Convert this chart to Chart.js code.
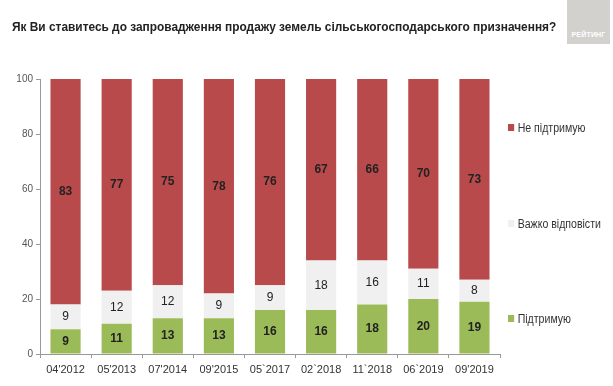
<!DOCTYPE html>
<html>
<head>
<meta charset="utf-8">
<script src="https://cdn.jsdelivr.net/npm/chart.js@4"></script>
<style>
  body { margin: 0; background: #fff; }
  #wrap { position: relative; width: 613px; height: 386px; overflow: hidden; }
  #title { position: absolute; left: 12px; top: 19px; font: bold 13.5px "Liberation Sans", Arial, sans-serif; color: #222; white-space: nowrap; transform-origin: left top; }
  #logo { position: absolute; left: 567px; top: 0; width: 43px; height: 44px; background: #d3d1ce; }
  #logo span { position: absolute; left: 0; right: 0; top: 31px; text-align: center; font: bold 7px "Liberation Sans", Arial, sans-serif; color: #fff; letter-spacing: 0.2px; }
  .leg { position: absolute; left: 508px; font: 12px "Liberation Sans", Arial, sans-serif; color: #333; white-space: nowrap; transform: scaleX(0.88); transform-origin: left center; }
  .leg i { display: inline-block; width: 7px; height: 7px; margin-right: 4px; vertical-align: 1px; }
  canvas { position: absolute; left: 0; top: 0; }
</style>
</head>
<body>
<div id="wrap">
  <canvas id="chart" width="613" height="386"></canvas>
  <div id="title">Як Ви ставитесь до запровадження продажу земель сільськогосподарського призначення?</div>
  <div id="logo"><span>РЕЙТИНГ</span></div>
  <div id="legend"></div>
</div>
<script>
const labels = ["04'2012", "05'2013", "07'2014", "09'2015", "05`2017", "02`2018", "11`2018", "06`2019", "09'2019"];
const support = [9, 11, 13, 13, 16, 16, 18, 20, 19];
const hardToSay = [9, 12, 12, 9, 9, 18, 16, 11, 8];
const notSupport = [83, 77, 75, 78, 76, 67, 66, 70, 73];
const seriesNames = ['Підтримую', 'Важко відповісти', 'Не підтримую'];
const colors = ['#9bbb59', '#f0f0f0', '#b94a4b'];

// заголовок стискаємо до ширини як на оригіналі
const titleEl = document.getElementById('title');
titleEl.style.transform = `scaleX(${544 / titleEl.scrollWidth})`;

// легенда праворуч
const legendTops = [312, 217, 121];
document.getElementById('legend').innerHTML = seriesNames.map((n, i) =>
  `<div class="leg" style="top:${legendTops[i]}px"><i style="background:${colors[i]}"></i>${n}</div>`
).join('');

const valueLabels = {
  id: 'valueLabels',
  afterDatasetsDraw(chart) {
    const ctx = chart.ctx;
    ctx.save();
    ctx.textAlign = 'center';
    ctx.textBaseline = 'middle';
    ctx.fillStyle = '#222';
    chart.data.datasets.forEach((ds, di) => {
      const meta = chart.getDatasetMeta(di);
      ctx.font = (di === 1 ? '' : 'bold ') + '12px "Liberation Sans", Arial, sans-serif';
      meta.data.forEach((bar, i) => {
        const top = Math.max(bar.y, chart.chartArea.top);
        const y = (top + bar.base) / 2;
        ctx.fillText(ds.data[i], bar.x, y);
      });
    });
    ctx.restore();
  }
};

new Chart(document.getElementById('chart'), {
  type: 'bar',
  data: {
    labels: labels,
    datasets: [
      { label: seriesNames[0], data: support, backgroundColor: colors[0] },
      { label: seriesNames[1], data: hardToSay, backgroundColor: colors[1] },
      { label: seriesNames[2], data: notSupport, backgroundColor: colors[2] }
    ]
  },
  options: {
    responsive: false,
    animation: false,
    layout: { padding: { left: 0, right: 113, top: 79, bottom: 0 } },
    datasets: { bar: { categoryPercentage: 1, barPercentage: 0.59 } },
    plugins: { legend: { display: false }, tooltip: { enabled: false } },
    scales: {
      x: {
        stacked: true,
        afterFit: s => { s.height = 32; },
        grid: { offset: true, drawOnChartArea: false, tickLength: 4, color: '#999' },
        border: { color: '#999' },
        ticks: { color: '#333', padding: 5, font: { size: 11, family: '"Liberation Sans", Arial, sans-serif' } }
      },
      y: {
        stacked: true,
        min: 0,
        max: 100,
        afterFit: s => { s.width = 40; },
        grid: { drawOnChartArea: false, tickLength: 4, color: '#999' },
        border: { color: '#999' },
        ticks: { stepSize: 20, color: '#555', padding: 3, font: { size: 10, family: '"Liberation Sans", Arial, sans-serif' } }
      }
    }
  },
  plugins: [valueLabels]
});
</script>
</body>
</html>
